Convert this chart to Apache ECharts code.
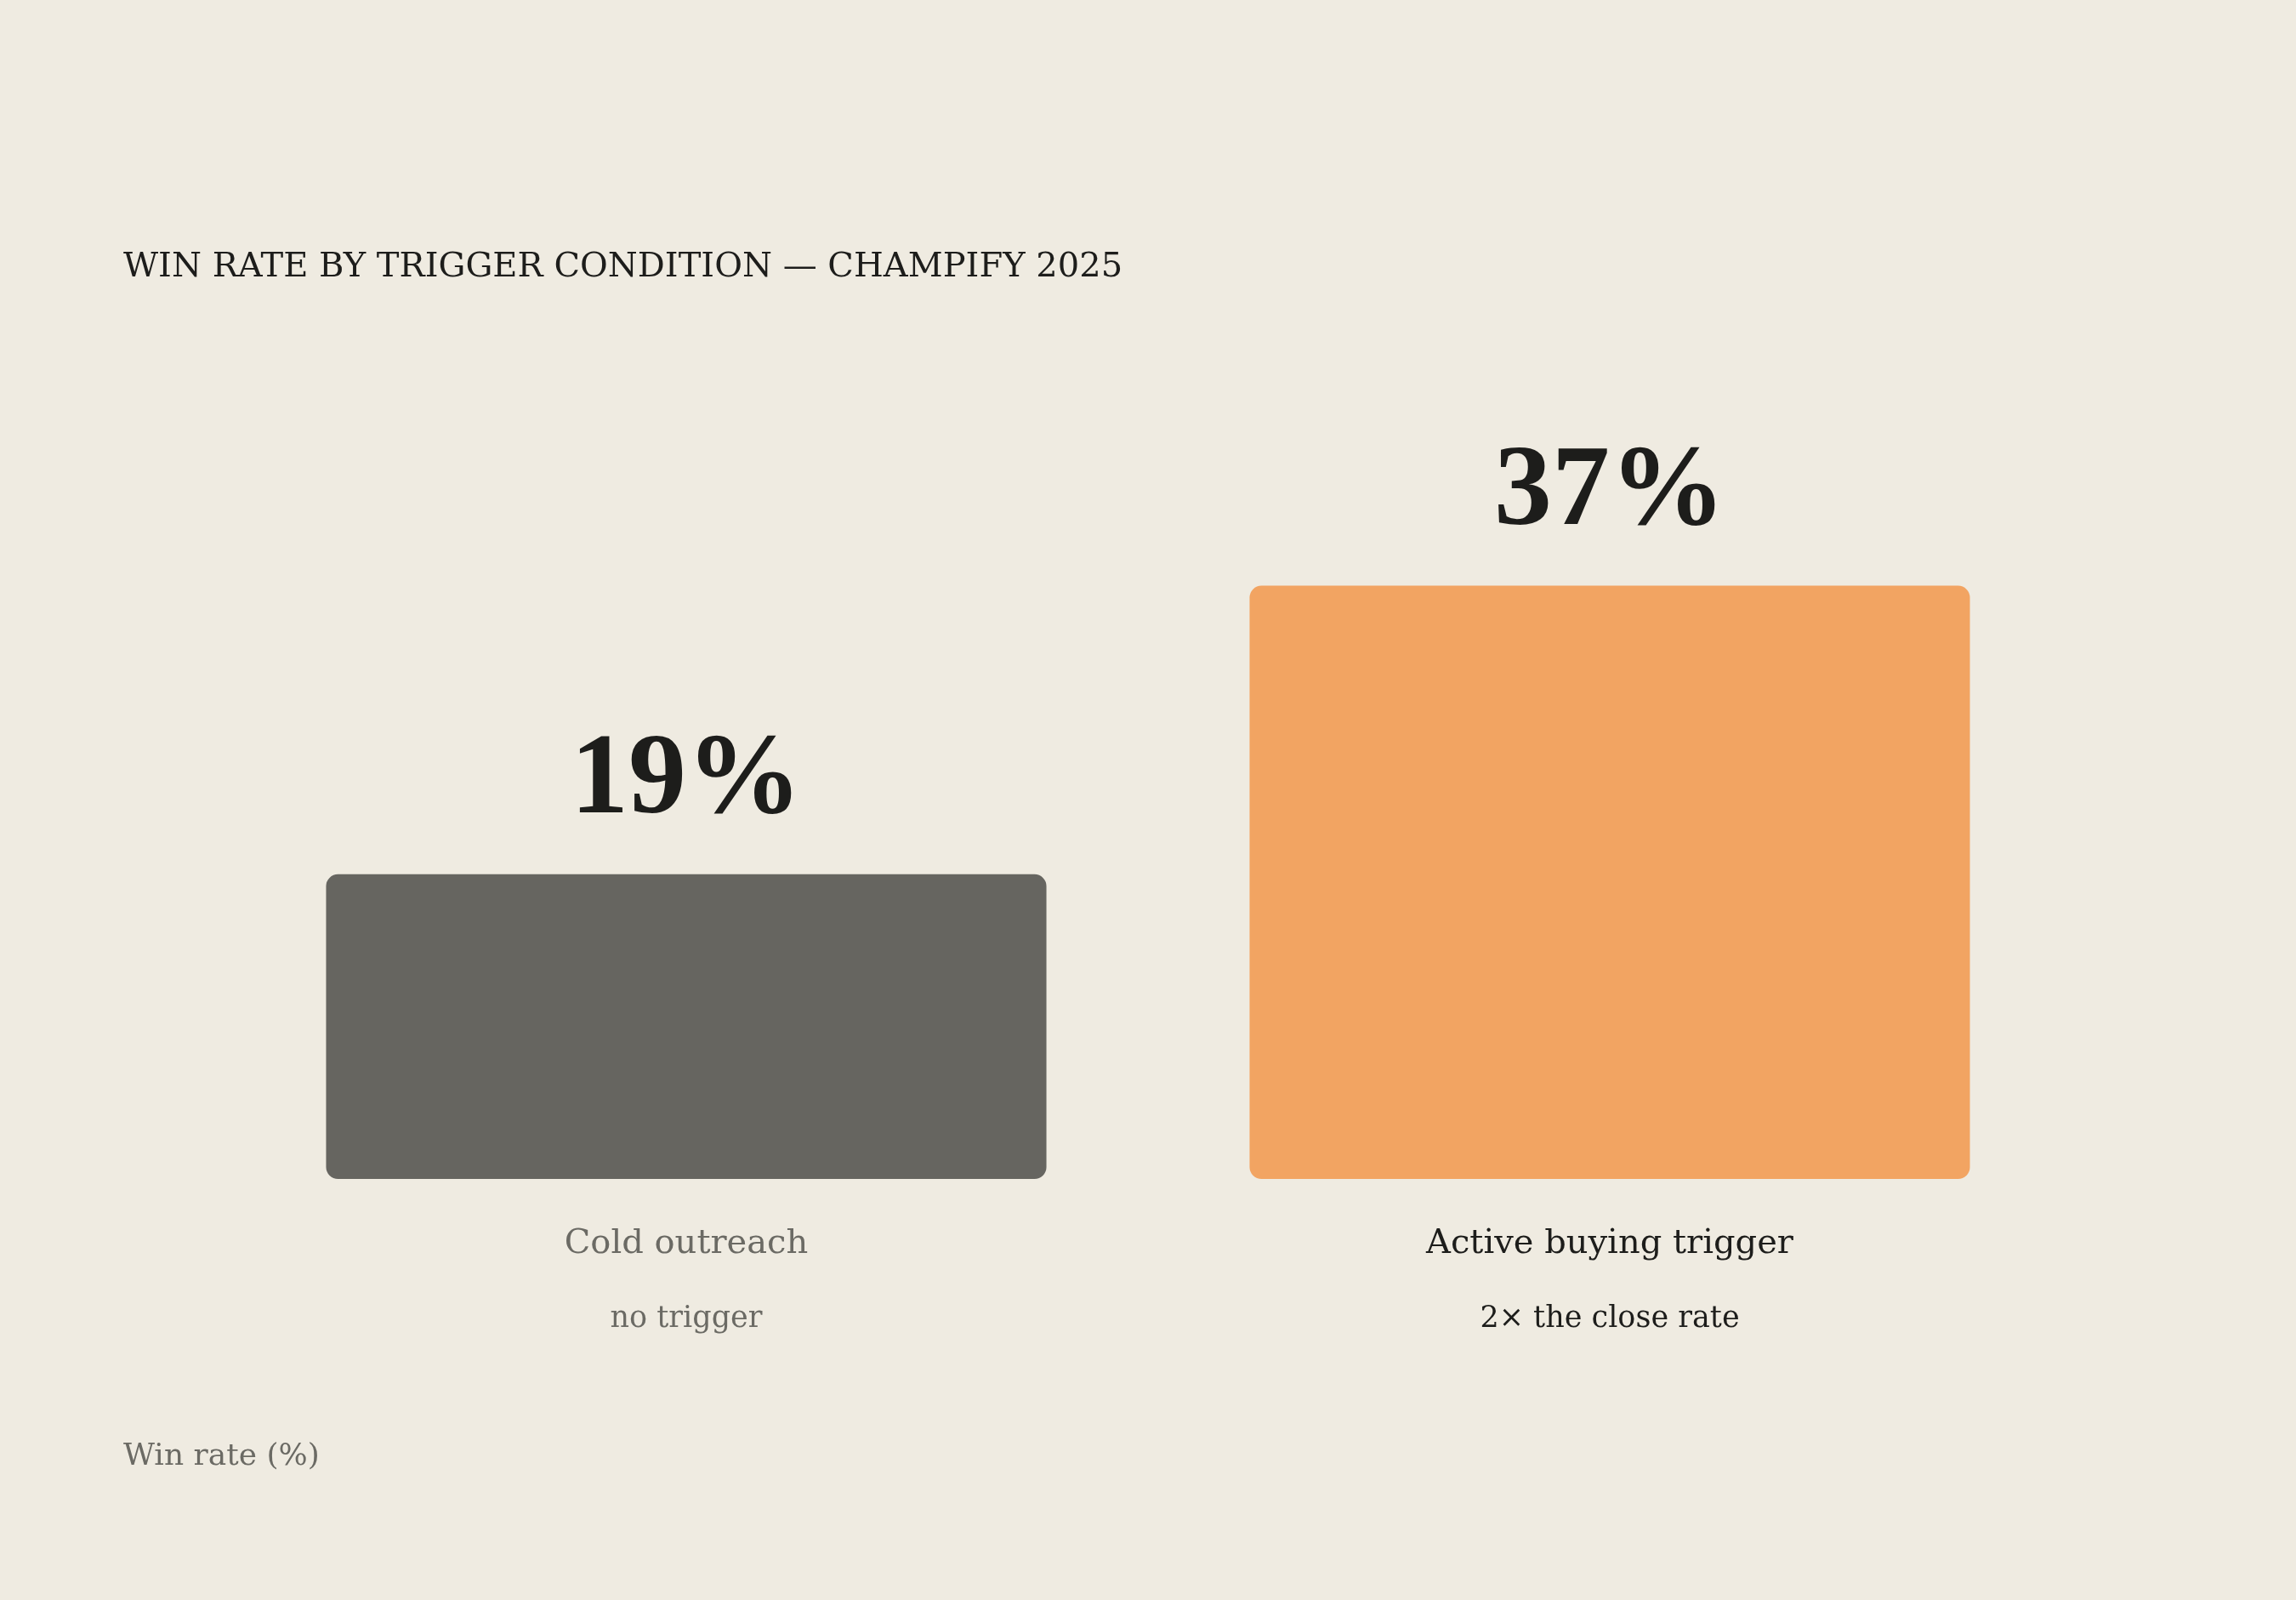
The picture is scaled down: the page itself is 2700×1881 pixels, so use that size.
<!DOCTYPE html>
<html>
<head>
<meta charset="utf-8">
<script src="https://cdn.jsdelivr.net/npm/echarts@6/dist/echarts.min.js"></script>
<style>
  html, body { margin: 0; padding: 0; background: #efebe1; }
  #chart { width: 2700px; height: 1881px; }
</style>
</head>
<body>
<div id="chart"></div>
<script>
// data
var categories = ['Cold outreach', 'Active buying trigger'];
var subLabels = ['no trigger', '2\u00d7 the close rate'];
var winRates = [19, 37];
var barColors = ['#666560', '#f2a462'];
var labelColors = ['#6b6a64', '#1d1d1b'];

var chart = echarts.init(document.getElementById('chart'));

var option = {
  backgroundColor: '#efebe1',
  animation: false,
  title: [{
    text: 'WIN RATE BY TRIGGER CONDITION \u2014 CHAMPIFY 2025',
    left: 140,
    top: 290,
    textStyle: {
      fontFamily: 'DejaVu Serif',
      fontWeight: 'normal',
      fontSize: 40,
      color: '#1d1d1b'
    }
  }, {
    text: 'Win rate (%)',
    left: 140,
    top: 1690,
    textStyle: {
      fontFamily: 'DejaVu Serif',
      fontWeight: 'normal',
      fontSize: 36,
      color: '#6b6a64'
    }
  }],
  grid: {
    left: 264,
    right: 264,
    top: 632,
    bottom: 495
  },
  xAxis: {
    type: 'category',
    data: categories,
    axisLine: { show: false },
    axisTick: { show: false },
    axisLabel: {
      margin: 33,
      formatter: function (value, idx) {
        return '{m' + idx + '|' + value + '}\n{s' + idx + '|' + subLabels[idx] + '}';
      },
      rich: {
        m0: { fontFamily: 'DejaVu Serif', fontSize: 40, color: labelColors[0], lineHeight: 88 },
        s0: { fontFamily: 'DejaVu Serif', fontSize: 35, color: labelColors[0], lineHeight: 88 },
        m1: { fontFamily: 'DejaVu Serif', fontSize: 40, color: labelColors[1], lineHeight: 88 },
        s1: { fontFamily: 'DejaVu Serif', fontSize: 35, color: labelColors[1], lineHeight: 88 }
      }
    }
  },
  yAxis: {
    type: 'value',
    min: 0,
    max: 40,
    show: false
  },
  series: [{
    type: 'bar',
    barWidth: '78%',
    data: winRates.map(function (v, i) {
      return { value: v, itemStyle: { color: barColors[i] } };
    }),
    itemStyle: { borderRadius: 14 },
    label: {
      show: true,
      position: 'top',
      distance: 40,
      formatter: '{c}%',
      fontFamily: 'Liberation Serif',
      fontWeight: 'bold',
      fontSize: 136,
      color: '#1d1d1b'
    }
  }]
};

chart.setOption(option);
</script>
</body>
</html>
